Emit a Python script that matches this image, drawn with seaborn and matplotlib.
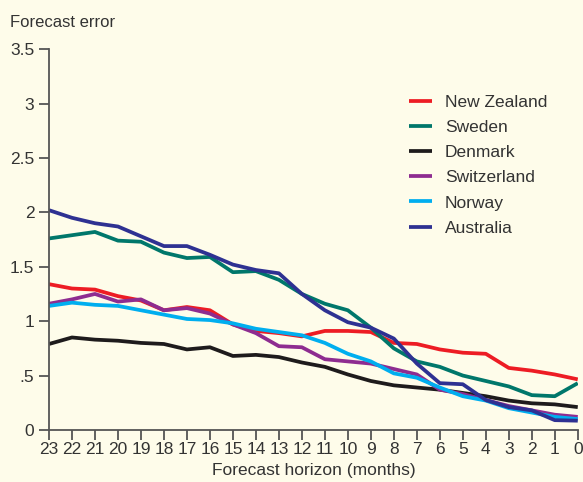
import numpy as np
import pandas as pd
import matplotlib
matplotlib.use('Agg')
import matplotlib.pyplot as plt
import seaborn as sns

# Horizonte de pronóstico (meses)
months = list(range(23, -1, -1))

new_zealand = [1.34, 1.30, 1.29, 1.23, 1.19, 1.10, 1.13, 1.10, 0.97, 0.91, 0.89, 0.86,
               0.91, 0.91, 0.90, 0.80, 0.79, 0.74, 0.71, 0.70, 0.57, 0.545, 0.51, 0.465]
sweden = [1.76, 1.79, 1.82, 1.74, 1.73, 1.63, 1.58, 1.59, 1.45, 1.46, 1.38, 1.25,
          1.16, 1.10, 0.94, 0.75, 0.63, 0.58, 0.50, 0.45, 0.40, 0.32, 0.31, 0.43]
denmark = [0.79, 0.85, 0.83, 0.82, 0.80, 0.79, 0.74, 0.76, 0.68, 0.69, 0.67, 0.62,
           0.58, 0.51, 0.45, 0.41, 0.39, 0.37, 0.34, 0.31, 0.27, 0.245, 0.235, 0.21]
switzerland = [1.16, 1.20, 1.25, 1.18, 1.20, 1.10, 1.12, 1.07, 0.97, 0.89, 0.77, 0.76,
               0.65, 0.63, 0.61, 0.56, 0.51, 0.37, 0.33, 0.275, 0.22, 0.18, 0.14, 0.12]
norway = [1.14, 1.17, 1.15, 1.14, 1.10, 1.06, 1.02, 1.01, 0.98, 0.93, 0.90, 0.87,
          0.80, 0.70, 0.63, 0.52, 0.48, 0.39, 0.31, 0.27, 0.20, 0.16, 0.12, 0.10]
australia = [2.02, 1.95, 1.90, 1.87, 1.78, 1.69, 1.69, 1.61, 1.52, 1.47, 1.44, 1.25,
             1.10, 0.99, 0.94, 0.84, 0.61, 0.43, 0.42, 0.275, 0.21, 0.18, 0.09, 0.085]

countries = ['New Zealand', 'Sweden', 'Denmark', 'Switzerland', 'Norway', 'Australia']
colors = ['#ED1C24', '#00776B', '#1E1B1C', '#8E2C90', '#00AEEF', '#2E3192']
series = [new_zealand, sweden, denmark, switzerland, norway, australia]

# Tabla larga para seaborn
df = pd.concat([pd.DataFrame({'month': months, 'error': vals, 'country': name})
                for name, vals in zip(countries, series)], ignore_index=True)

bg = '#FEFCEA'
sns.set_style('ticks')
plt.rcParams['font.family'] = ['Liberation Sans Narrow', 'DejaVu Sans Condensed',
                               'Liberation Sans', 'DejaVu Sans']

fig = plt.figure(figsize=(5.83, 4.82), dpi=100, facecolor=bg)
ax = fig.add_axes([0.084, 0.108, 0.907, 0.79])
ax.set_facecolor(bg)

sns.lineplot(data=df, x='month', y='error', hue='country', hue_order=countries,
             palette=dict(zip(countries, colors)), linewidth=2.7, ax=ax,
             solid_capstyle='butt')

ax.set_xlim(23, 0)
ax.set_ylim(0, 3.5)
ax.set_xticks(months)
ax.set_xticklabels([str(m) for m in months])
yticks = [0, 0.5, 1, 1.5, 2, 2.5, 3, 3.5]
ax.set_yticks(yticks)
ax.set_yticklabels(['0', '.5', '1', '1.5', '2', '2.5', '3', '3.5'])

for s in ['top', 'right']:
    ax.spines[s].set_visible(False)
for s in ['left', 'bottom']:
    ax.spines[s].set_color('#555555')
    ax.spines[s].set_linewidth(1.3)
ax.tick_params(colors='#555555', labelcolor='#333333', labelsize=12.5, length=7, width=1.3)
ax.tick_params(axis='x', pad=2)

ax.set_xlabel('Forecast horizon (months)', fontsize=12.5, color='#333333', labelpad=4)
ax.set_ylabel('')
fig.text(0.017, 0.953, 'Forecast error', fontsize=12, color='#333333', va='center')

leg = ax.legend(loc='upper left', bbox_to_anchor=(0.652, 0.922), frameon=False,
                fontsize=12.5, handlelength=1.3, labelspacing=0.58, handletextpad=0.75)
for t in leg.get_texts():
    t.set_color('#333333')

fig.savefig('out.png', dpi=100, facecolor=bg)
